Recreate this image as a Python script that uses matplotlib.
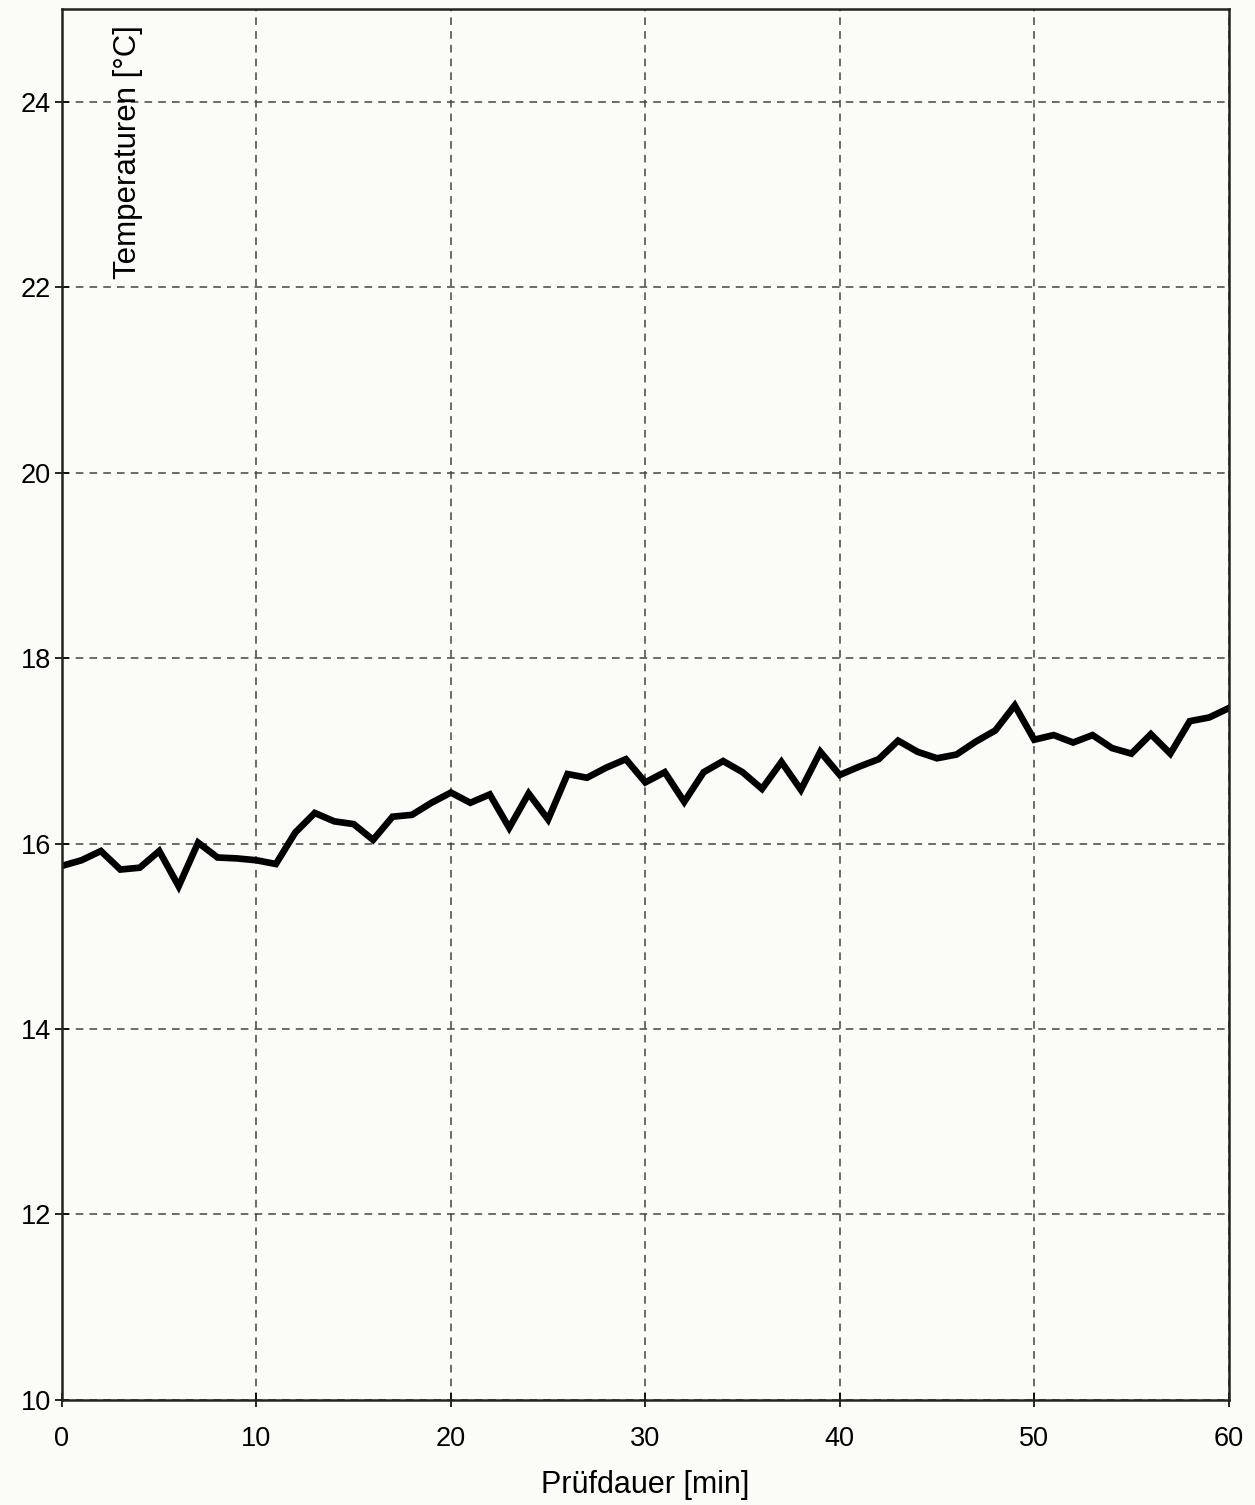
import matplotlib.pyplot as plt
import numpy as np

plt.rcParams['font.family'] = ['Liberation Sans', 'DejaVu Sans']

# Prüfdauer [min] and temperature [°C]
minutes = list(range(0, 61))
temps = [15.76, 15.82, 15.92, 15.72, 15.74, 15.92, 15.54, 16.01, 15.85, 15.84,
         15.82, 15.78, 16.12, 16.33, 16.24, 16.21, 16.04, 16.29, 16.31, 16.44,
         16.55, 16.44, 16.53, 16.17, 16.54, 16.26, 16.75, 16.71, 16.82, 16.91,
         16.66, 16.77, 16.45, 16.77, 16.89, 16.77, 16.59, 16.88, 16.58, 16.99,
         16.74, 16.83, 16.91, 17.11, 16.99, 16.92, 16.96, 17.10, 17.22, 17.49,
         17.12, 17.17, 17.09, 17.17, 17.03, 16.97, 17.18, 16.97, 17.32, 17.36,
         17.46]
x_ticks = [0, 10, 20, 30, 40, 50, 60]
y_ticks = [10, 12, 14, 16, 18, 20, 22, 24]

bg = '#fbfbf8'
fig = plt.figure(figsize=(12.55, 15.05), dpi=100, facecolor=bg)
ax = fig.add_axes([0.0494, 0.0698, 0.9296, 0.9242], facecolor=bg)

ax.plot(minutes, temps, color='black', lw=4.8, solid_joinstyle='miter')

ax.set_xlim(0, 60)
ax.set_ylim(10, 25)
ax.set_xticks(x_ticks)
ax.set_yticks(y_ticks)
ax.grid(True, color='#444444', linestyle=(0, (5, 4)), linewidth=1.1)
ax.tick_params(direction='inout', length=10, width=1.2, labelsize=19.5)
ax.tick_params(axis='y', pad=3)
ax.tick_params(axis='x', pad=14)
for s in ax.spines.values():
    s.set_linewidth(1.8)
    s.set_color('#222222')

ax.set_xlabel('Prüfdauer [min]', fontsize=22, labelpad=13)
ax.text(0.0566, 0.9885, 'Temperaturen [°C]', transform=ax.transAxes, rotation=90,
        ha='center', va='top', fontsize=22.5)

fig.savefig('out.png', dpi=100, facecolor=bg)
